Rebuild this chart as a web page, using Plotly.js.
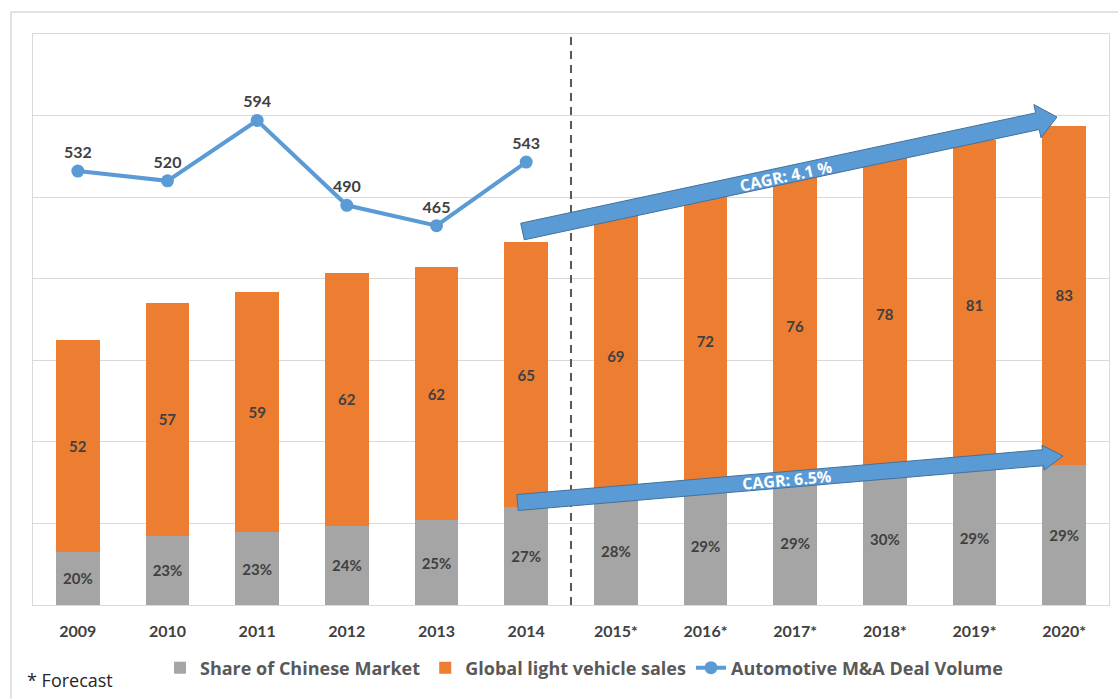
<!DOCTYPE html>
<html>
<head>
<meta charset="utf-8">
<script src="https://cdn.plot.ly/plotly-3.0.1.min.js"></script>
<style>html,body{margin:0;padding:0;background:#fff;}#chart{width:1118px;height:699px;}</style>
</head>
<body>
<div id="chart"></div>
<script>
// ---- data ----
const years = ['2009','2010','2011','2012','2013','2014','2015*','2016*','2017*','2018*','2019*','2020*'];
const globalSales = [52, 57, 59, 62, 62, 65, 69, 72, 76, 78, 81, 83];
const chinaVolume = [13.0, 17.0, 17.8, 19.4, 20.8, 24.0, 26.6, 28.8, 30.4, 32.4, 33.0, 34.4];
const chinaShareLabels = ['20%','23%','23%','24%','25%','27%','28%','29%','29%','30%','29%','29%'];
const dealYears = ['2009','2010','2011','2012','2013','2014'];
const dealVolume = [532, 520, 594, 490, 465, 543];
const cagrLabels = ['CAGR: 4.1 %', 'CAGR: 6.5%'];

// ---- plot geometry (pixels) ----
const M = {l: 33, r: 9, t: 34, b: 94};
const W = 1118 - M.l - M.r, H = 699 - M.t - M.b;
const px = x => (x - M.l) / W;
const py = y => (M.t + H - y) / H;

function arrowPath(tail, tip, halfBody, headLen, headHalf) {
  const dx = tip[0] - tail[0], dy = tip[1] - tail[1];
  const len = Math.hypot(dx, dy);
  const ux = dx / len, uy = dy / len;
  const nx = uy, ny = -ux;
  const bx = tip[0] - ux * headLen, by = tip[1] - uy * headLen;
  const pts = [
    [tail[0] + nx * halfBody, tail[1] + ny * halfBody],
    [bx + nx * halfBody, by + ny * halfBody],
    [bx + nx * headHalf, by + ny * headHalf],
    [tip[0], tip[1]],
    [bx - nx * headHalf, by - ny * headHalf],
    [bx - nx * halfBody, by - ny * halfBody],
    [tail[0] - nx * halfBody, tail[1] - ny * halfBody]
  ];
  return 'M' + pts.map(p => px(p[0]).toFixed(5) + ',' + py(p[1]).toFixed(5)).join(' L') + ' Z';
}

const labelFont = {family: 'Lato, "Open Sans", sans-serif', size: 15, color: '#404040', weight: 'bold'};

const traces = [
  {
    type: 'bar', name: 'Share of Chinese Market', x: years, y: chinaVolume,
    marker: {color: '#A5A5A5'}, width: 0.49,
    text: chinaShareLabels, textposition: 'inside', insidetextanchor: 'middle',
    textangle: 0, constraintext: 'none', textfont: labelFont, hoverinfo: 'skip'
  },
  {
    type: 'bar', name: 'Global light vehicle sales', x: years, y: globalSales,
    marker: {color: '#ED7D31'}, width: 0.49,
    text: globalSales.map(String), textposition: 'inside', insidetextanchor: 'middle',
    textangle: 0, constraintext: 'none', textfont: labelFont, hoverinfo: 'skip'
  },
  {
    type: 'scatter', mode: 'lines+markers+text', name: 'Automotive M&A Deal Volume',
    x: dealYears, y: dealVolume, yaxis: 'y2',
    line: {color: '#5B9BD5', width: 4}, marker: {color: '#5B9BD5', size: 13},
    text: dealVolume.map(String), textposition: 'top center',
    textfont: {family: 'Lato, "Open Sans", sans-serif', size: 16, color: '#404040', weight: 'bold'},
    hoverinfo: 'skip', cliponaxis: false
  }
];

const shapes = [
  // outer frame
  {type: 'line', xref: 'paper', yref: 'paper', x0: px(11), x1: px(11), y0: py(12), y1: py(720), line: {color: '#D9D9D9', width: 1.5}},
  {type: 'line', xref: 'paper', yref: 'paper', x0: px(11), x1: px(1130), y0: py(12), y1: py(12), line: {color: '#D9D9D9', width: 1.5}},
  // forecast divider
  {type: 'line', xref: 'x', yref: 'paper', x0: 5.5, x1: 5.5, y0: 0, y1: 1, line: {color: '#595959', width: 2, dash: '8px,6px'}},
  // CAGR arrows
  {type: 'path', xref: 'paper', yref: 'paper', path: arrowPath([522.5, 231.5], [1057, 117], 8.5, 20, 17), fillcolor: '#5B9BD5', line: {color: '#41719C', width: 1}},
  {type: 'path', xref: 'paper', yref: 'paper', path: arrowPath([517.5, 502.5], [1063, 456], 8, 20, 12.5), fillcolor: '#5B9BD5', line: {color: '#41719C', width: 1}}
];

const cagrFont = {family: '"Open Sans", Lato, sans-serif', size: 16, color: '#FFFFFF', weight: 'bold'};
const annotations = [
  {xref: 'paper', yref: 'paper', x: px(786), y: py(176), text: cagrLabels[0], showarrow: false, textangle: -12.1, font: cagrFont, xanchor: 'center', yanchor: 'middle'},
  {xref: 'paper', yref: 'paper', x: px(786), y: py(480), text: cagrLabels[1], showarrow: false, textangle: -5, font: cagrFont, xanchor: 'center', yanchor: 'middle'},
  {xref: 'paper', yref: 'paper', x: px(25), y: py(680), text: '* Forecast', showarrow: false, xanchor: 'left', yanchor: 'middle',
   font: {family: '"Open Sans", Lato, sans-serif', size: 18, color: '#262626'}}
];

const layout = {
  width: 1118, height: 699,
  margin: M,
  paper_bgcolor: '#FFFFFF', plot_bgcolor: '#FFFFFF',
  barmode: 'stack',
  showlegend: true,
  legend: {
    orientation: 'h', x: px(160), xanchor: 'left', y: py(668), yanchor: 'middle',
    font: {family: '"Open Sans", Lato, sans-serif', size: 18, color: '#595959', weight: 'bold'},
    bgcolor: 'rgba(0,0,0,0)', traceorder: 'normal'
  },
  xaxis: {
    type: 'category', range: [-0.5, 11.5], showgrid: false, zeroline: false,
    showline: true, mirror: true, linecolor: '#D9D9D9', linewidth: 1,
    ticks: '', ticklabelstandoff: 12,
    tickfont: {family: 'Lato, "Open Sans", sans-serif', size: 16, color: '#404040', weight: 'bold'}
  },
  yaxis: {
    range: [0, 140], dtick: 20, showgrid: true, gridcolor: '#D9D9D9', gridwidth: 1,
    zeroline: false, showticklabels: false, ticks: '',
    showline: true, mirror: true, linecolor: '#D9D9D9', linewidth: 1
  },
  yaxis2: {
    range: [0, 700], overlaying: 'y', side: 'right', showgrid: false, zeroline: false,
    showticklabels: false, ticks: '', showline: false
  },
  shapes: shapes,
  annotations: annotations,
  hovermode: false
};

Plotly.newPlot('chart', traces, layout, {displayModeBar: false, staticPlot: true});
</script>
</body>
</html>
